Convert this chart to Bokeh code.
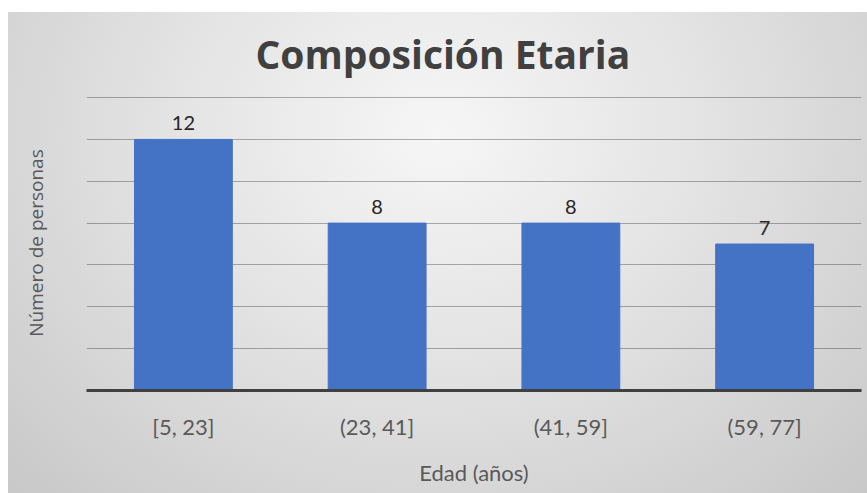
from bokeh.plotting import figure
from bokeh.models import FactorRange, Range1d, FixedTicker
from bokeh.core.properties import value
from bokeh.embed import file_html
from bokeh.resources import INLINE

# Age groups and number of people in each
categories = ["[5, 23]", "(23, 41]", "(41, 59]", "(59, 77]"]
counts = [12, 8, 8, 7]
grid_ticks = [2, 4, 6, 8, 10, 12, 14]

p = figure(
    width=867, height=493,
    x_range=FactorRange(*categories),
    y_range=Range1d(0, 14.1),
    output_backend="svg",
    toolbar_location=None,
    min_border_left=86, min_border_right=6,
    min_border_top=95, min_border_bottom=103,
    title="Composición Etaria",
)

# transparent canvas so the page-level gradient shows through
p.background_fill_alpha = 0
p.border_fill_alpha = 0
p.outline_line_color = None
p.styles = {
    "background-color": "white",
    "background-image": "radial-gradient(farthest-corner at 50% 25%, #f6f6f6 0%, #e3e3e3 45%, #c8c8c8 100%)",
    "background-size": "859px 481px",
    "background-position": "8px 12px",
    "background-repeat": "no-repeat",
}

p.title.text_font = "Open Sans"
p.title.text_font_style = "bold"
p.title.text_font_size = "39px"
p.title.text_color = "#404040"
p.title.align = "left"
p.title.offset = 169
p.title.standoff = 31

p.vbar(x=categories, top=counts, width=0.505, color="#4472C4")

p.text(
    x=categories, y=counts, text=[str(c) for c in counts],
    text_align="center", text_baseline="middle", y_offset=-16,
    text_font=value("Lato"), text_font_size="20px", text_color="#262626",
)

# grid
p.xgrid.grid_line_color = None
p.ygrid.ticker = FixedTicker(ticks=grid_ticks)
p.ygrid.grid_line_color = "black"
p.ygrid.grid_line_alpha = 0.3
p.ygrid.grid_line_width = 1

# x axis
xa = p.xaxis[0]
xa.axis_line_color = "#404040"
xa.axis_line_width = 3
xa.major_tick_line_color = None
xa.minor_tick_line_color = None
xa.major_label_text_font = "Lato"
xa.major_label_text_font_size = "22px"
xa.major_label_text_color = "#595959"
xa.major_label_standoff = 16
xa.axis_label = "Edad (años)"
xa.axis_label_text_font = "Lato"
xa.axis_label_text_font_size = "22px"
xa.axis_label_text_font_style = "normal"
xa.axis_label_text_color = "#595959"
xa.axis_label_standoff = 16

# y axis: label only
ya = p.yaxis[0]
ya.ticker = FixedTicker(ticks=[])
ya.axis_line_color = None
ya.major_tick_line_color = None
ya.minor_tick_line_color = None
ya.axis_label = "Número de personas"
ya.axis_label_text_font = "Open Sans"
ya.axis_label_text_font_size = "19px"
ya.axis_label_text_font_style = "normal"
ya.axis_label_text_color = "#595959"
ya.axis_label_standoff = 38

open("out.html", "w").write(file_html(p, INLINE))
